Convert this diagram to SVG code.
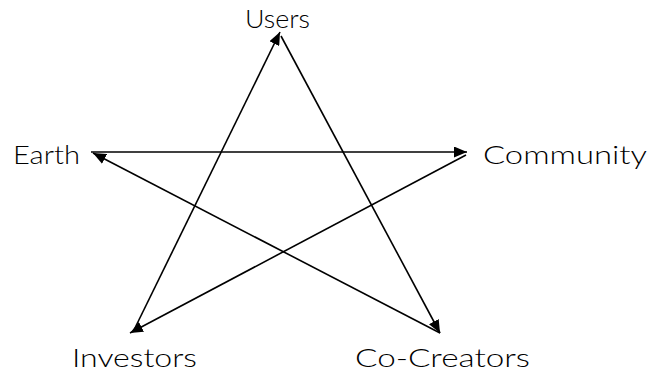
<svg xmlns="http://www.w3.org/2000/svg" width="652" height="376" viewBox="0 0 652 376">
<style>
.lbl{font-family:Lato,"Liberation Sans",Arial,sans-serif;font-weight:300;font-size:25.5px;fill:#000}
.edge{stroke:#000;stroke-width:1.6;fill:none;marker-end:url(#ah)}
</style>
<defs>
<marker id="ah" viewBox="0 0 13 11" refX="13" refY="5.5" markerWidth="13" markerHeight="11" markerUnits="userSpaceOnUse" orient="auto">
<path d="M0,0 L13,5.5 L0,11 z" fill="#000"/>
</marker>
</defs>
<rect width="652" height="376" fill="#fff"/>
<g id="connectors">
<line class="edge" x1="281" y1="36" x2="440" y2="333"/>
<line class="edge" x1="440" y1="333" x2="93" y2="153"/>
<line class="edge" x1="91" y1="152" x2="467" y2="152"/>
<line class="edge" x1="466" y1="155" x2="130" y2="333"/>
<line class="edge" x1="133" y1="332" x2="280" y2="32"/>
</g>
<g id="users"><text class="lbl" x="245" y="28" textLength="65" lengthAdjust="spacingAndGlyphs">Users</text></g>
<g id="earth"><text class="lbl" x="13" y="164" textLength="67" lengthAdjust="spacingAndGlyphs">Earth</text></g>
<g id="community"><text class="lbl" x="483" y="164" textLength="164" lengthAdjust="spacingAndGlyphs">Community</text></g>
<g id="investors"><text class="lbl" x="72" y="367" textLength="125" lengthAdjust="spacingAndGlyphs">Investors</text></g>
<g id="cocreators"><text class="lbl" x="355" y="367" textLength="175" lengthAdjust="spacingAndGlyphs">Co-Creators</text></g>
</svg>
